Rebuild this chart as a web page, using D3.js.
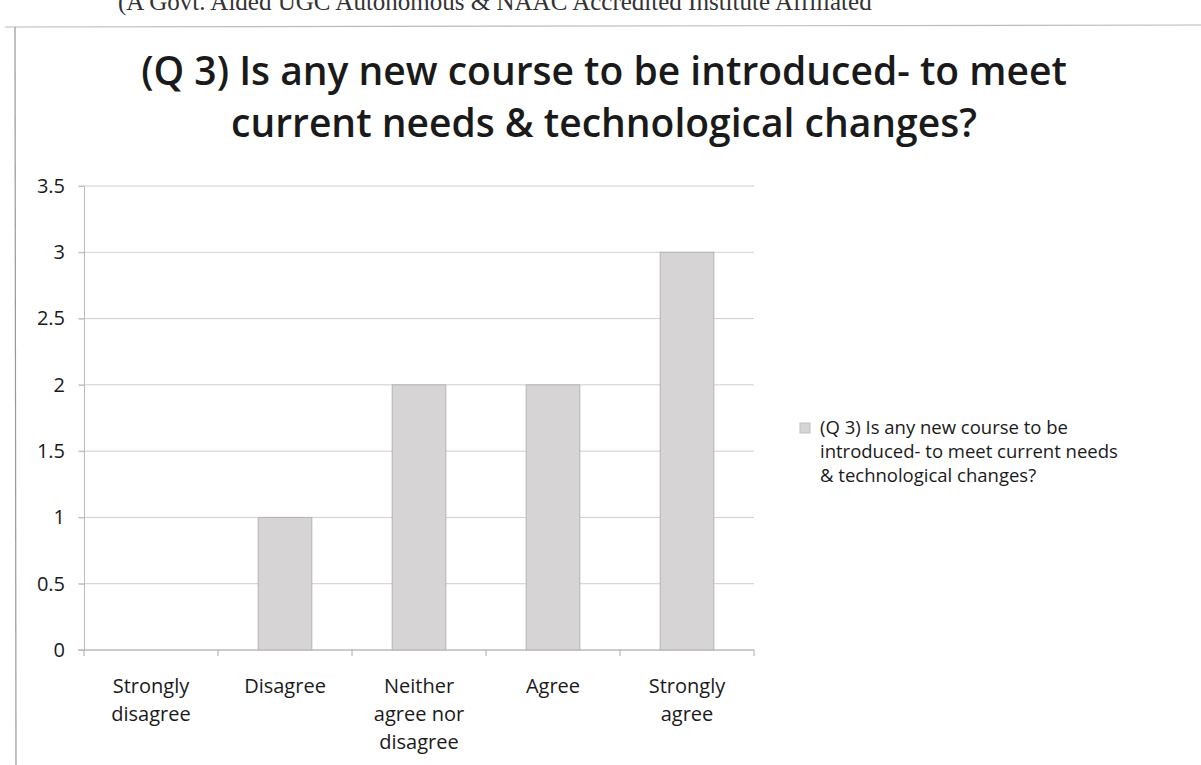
<!doctype html>
<html lang="en">
<head>
  <meta charset="utf-8">
  <title>Q3 new course</title>
  <style>
    body { margin: 0; background: #fff; }
    svg { display: block; font-family: "Open Sans", Lato, sans-serif; }
  </style>
</head>
<body>
<svg id="mysvg"></svg>
<script src="https://d3js.org/d3.v7.min.js"></script>
<script>
var width = 1201;
var height = 765;

// data
var categories = ["Strongly disagree", "Disagree", "Neither agree nor disagree", "Agree", "Strongly agree"];
var categoryLines = [["Strongly", "disagree"], ["Disagree"], ["Neither", "agree nor", "disagree"], ["Agree"], ["Strongly", "agree"]];
var values = [0, 1, 2, 2, 3];
var yTicks = [0, 0.5, 1, 1.5, 2, 2.5, 3, 3.5];
var titleLines = ["(Q 3) Is any new course to be introduced- to meet", "current needs & technological changes?"];
var legendLines = ["(Q 3) Is any new course to be", "introduced- to meet current needs", "& technological changes?"];
var headerText = "(A Govt. Aided UGC Autonomous & NAAC Accredited Institute Affiliated";

var svg = d3.select("#mysvg")
  .attr("width", width)
  .attr("height", height);

svg.append("rect").attr("width", width).attr("height", height).attr("fill", "#fff");

// header of the scanned page, cut by the top edge
svg.append("text")
  .attr("x", 118).attr("y", 10)
  .style("font-family", "'Liberation Serif', serif")
  .style("font-size", "25px")
  .attr("fill", "#333")
  .text(headerText);

// chart frame
svg.append("line").attr("x1", 5).attr("x2", 1201).attr("y1", 27).attr("y2", 25)
  .attr("stroke", "#bbb").attr("stroke-width", 1.2);
svg.append("line").attr("x1", 15).attr("x2", 16).attr("y1", 27).attr("y2", 765)
  .attr("stroke", "#999").attr("stroke-width", 1.2);

var x = d3.scaleBand()
  .domain(categories)
  .range([84, 754])
  .paddingInner(0.6)
  .paddingOuter(0.3);

var y = d3.scaleLinear()
  .domain([0, 3.5])
  .range([650, 186]);

// title
svg.append("g").selectAll("text").data(titleLines).enter()
  .append("text")
  .attr("x", 604)
  .attr("y", function(d, i) { return 85 + i * 52; })
  .attr("text-anchor", "middle")
  .style("font-size", "39px")
  .style("font-weight", "600")
  .attr("fill", "#1a1a1a")
  .text(function(d) { return d; });

// grid
svg.append("g").selectAll("line").data(yTicks).enter()
  .append("line")
  .attr("x1", 78).attr("x2", 754)
  .attr("y1", function(d) { return y(d); })
  .attr("y2", function(d) { return y(d); })
  .attr("stroke", function(d) { return d === 0 ? "#999" : "#cfcfcf"; })
  .attr("stroke-width", 1);

// y axis
var yAxis = d3.axisLeft(y).tickValues(yTicks).tickSize(5).tickFormat(d3.format("~g"));
var gy = svg.append("g").attr("transform", "translate(84,0)").call(yAxis);
gy.select(".domain").attr("stroke", "#bbb");
gy.selectAll(".tick line").attr("stroke", "#bbb");
gy.selectAll(".tick text")
  .attr("x", -19)
  .style("font-size", "20px")
  .style("font-family", "'Open Sans', sans-serif")
  .attr("fill", "#1a1a1a");

// x axis ticks between categories
var bounds = d3.range(categories.length + 1).map(function(i) { return 84 + i * (670 / categories.length); });
svg.append("g").selectAll("line").data(bounds).enter()
  .append("line")
  .attr("x1", function(d) { return d; }).attr("x2", function(d) { return d; })
  .attr("y1", 650).attr("y2", 656)
  .attr("stroke", "#aaa");

// bars
svg.append("g").selectAll("rect").data(values).enter()
  .append("rect")
  .attr("x", function(d, i) { return x(categories[i]); })
  .attr("width", x.bandwidth())
  .attr("y", function(d) { return y(d); })
  .attr("height", function(d) { return y(0) - y(d); })
  .attr("fill", "#d6d4d4")
  .attr("stroke", "#b5b3b3")
  .attr("stroke-width", 1);

// category labels
var lab = svg.append("g").selectAll("text").data(categoryLines).enter()
  .append("text")
  .attr("text-anchor", "middle")
  .style("font-size", "20px")
  .attr("fill", "#1a1a1a")
  .attr("transform", function(d, i) { return "translate(" + (x(categories[i]) + x.bandwidth() / 2) + ",693)"; });
lab.selectAll("tspan").data(function(d) { return d; }).enter()
  .append("tspan")
  .attr("x", 0)
  .attr("y", function(d, i) { return i * 28; })
  .text(function(d) { return d; });

// legend
svg.append("rect").attr("x", 800).attr("y", 423).attr("width", 10).attr("height", 10)
  .attr("fill", "#d6d4d4").attr("stroke", "#c0c0c0");
svg.append("g").selectAll("text").data(legendLines).enter()
  .append("text")
  .attr("x", 820)
  .attr("y", function(d, i) { return 434 + i * 24; })
  .style("font-size", "18.5px")
  .attr("fill", "#1a1a1a")
  .text(function(d) { return d; });
</script>
</body>
</html>
